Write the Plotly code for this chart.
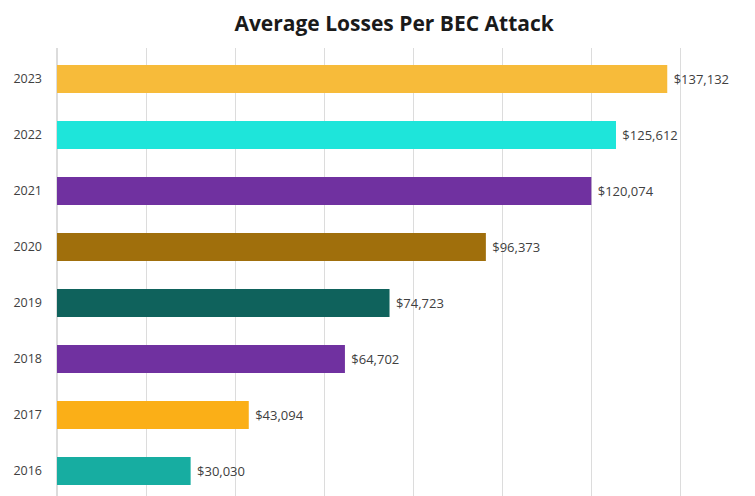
import plotly.graph_objects as go

years = ["2016", "2017", "2018", "2019", "2020", "2021", "2022", "2023"]
losses = [30030, 43094, 64702, 74723, 96373, 120074, 125612, 137132]
labels = ["$30,030", "$43,094", "$64,702", "$74,723", "$96,373", "$120,074", "$125,612", "$137,132"]
colors = ["#17ADA1", "#FBAF17", "#7031A0", "#0F625C", "#A06F0C", "#7031A0", "#1EE5DA", "#F7BB3A"]

fig = go.Figure(go.Bar(
    y=years, x=losses, orientation="h",
    marker=dict(color=colors, line=dict(width=0)),
    text=[" " + t for t in labels], textposition="outside", cliponaxis=False,
    textfont=dict(family="Open Sans", size=13, color="#404040"),
))

fig.update_layout(
    width=755, height=496,
    margin=dict(l=57, r=0, t=48, b=0),
    paper_bgcolor="white", plot_bgcolor="white",
    bargap=0.5, showlegend=False,
    title=dict(text="<b>Average Losses Per BEC Attack</b>", x=0.522, xanchor="center",
               y=0.953, yanchor="middle",
               font=dict(family="Open Sans", size=21, color="#1A1A1A")),
    xaxis=dict(range=[0, 156850], dtick=20000, showticklabels=False, showgrid=True,
               gridcolor="#DCDCDC", gridwidth=1, zeroline=True, zerolinecolor="#DCDCDC",
               showline=False),
    yaxis=dict(type="category", categoryorder="array", categoryarray=years,
               range=[-0.446, 7.554], showgrid=False, showline=False,
               ticklabelstandoff=14,
               tickfont=dict(family="Open Sans", size=12.5, color="#404040")),
)

fig.write_html("out.html")
